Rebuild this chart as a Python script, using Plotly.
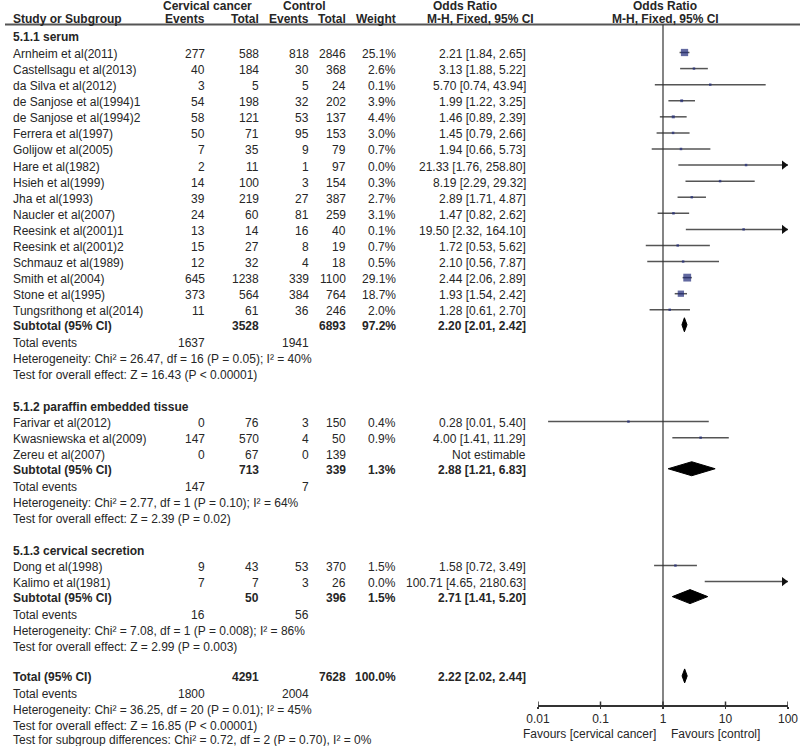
import plotly.graph_objects as go

# ---------------- DATA ----------------
group_names = ["5.1.1 serum", "5.1.2 paraffin embedded tissue", "5.1.3 cervical secretion"]

g1_studies = ["Arnheim et al(2011)", "Castellsagu et al(2013)", "da Silva et al(2012)",
              "de Sanjose et al(1994)1", "de Sanjose et al(1994)2", "Ferrera et al(1997)",
              "Golijow et al(2005)", "Hare et al(1982)", "Hsieh et al(1999)", "Jha et al(1993)",
              "Naucler et al(2007)", "Reesink et al(2001)1", "Reesink et al(2001)2",
              "Schmauz et al(1989)", "Smith et al(2004)", "Stone et al(1995)",
              "Tungsrithong et al(2014)"]
g1_ca_events = [277, 40, 3, 54, 58, 50, 7, 2, 14, 39, 24, 13, 15, 12, 645, 373, 11]
g1_ca_total = [588, 184, 5, 198, 121, 71, 35, 11, 100, 219, 60, 14, 27, 32, 1238, 564, 61]
g1_co_events = [818, 30, 5, 32, 53, 95, 9, 1, 3, 27, 81, 16, 8, 4, 339, 384, 36]
g1_co_total = [2846, 368, 24, 202, 137, 153, 79, 97, 154, 387, 259, 40, 19, 18, 1100, 764, 246]
g1_weight = [25.1, 2.6, 0.1, 3.9, 4.4, 3.0, 0.7, 0.0, 0.3, 2.7, 3.1, 0.1, 0.7, 0.5, 29.1, 18.7, 2.0]
g1_or = [2.21, 3.13, 5.70, 1.99, 1.46, 1.45, 1.94, 21.33, 8.19, 2.89, 1.47, 19.50, 1.72, 2.10, 2.44, 1.93, 1.28]
g1_lo = [1.84, 1.88, 0.74, 1.22, 0.89, 0.79, 0.66, 1.76, 2.29, 1.71, 0.82, 2.32, 0.53, 0.56, 2.06, 1.54, 0.61]
g1_hi = [2.65, 5.22, 43.94, 3.25, 2.39, 2.66, 5.73, 258.80, 29.32, 4.87, 2.62, 164.10, 5.62, 7.87, 2.89, 2.42, 2.70]

g2_studies = ["Farivar et al(2012)", "Kwasniewska et al(2009)", "Zereu et al(2007)"]
g2_ca_events = [0, 147, 0]
g2_ca_total = [76, 570, 67]
g2_co_events = [3, 4, 0]
g2_co_total = [150, 50, 139]
g2_weight = [0.4, 0.9, None]
g2_or = [0.28, 4.00, None]
g2_lo = [0.0145, 1.41, None]
g2_hi = [5.40, 11.29, None]

g3_studies = ["Dong et al(1998)", "Kalimo et al(1981)"]
g3_ca_events = [9, 7]
g3_ca_total = [43, 7]
g3_co_events = [53, 3]
g3_co_total = [370, 26]
g3_weight = [1.5, 0.0]
g3_or = [1.58, 100.71]
g3_lo = [0.72, 4.65]
g3_hi = [3.49, 2180.63]

sub_ca_total = [3528, 713, 50]
sub_co_total = [6893, 339, 396]
sub_weight = [97.2, 1.3, 1.5]
sub_or = [2.20, 2.88, 2.71]
sub_lo = [2.01, 1.21, 1.41]
sub_hi = [2.42, 6.83, 5.20]
sub_ca_events = [1637, 147, 16]
sub_co_events = [1941, 7, 56]
sub_het = ["Heterogeneity: Chi² = 26.47, df = 16 (P = 0.05); I² = 40%",
           "Heterogeneity: Chi² = 2.77, df = 1 (P = 0.10); I² = 64%",
           "Heterogeneity: Chi² = 7.08, df = 1 (P = 0.008); I² = 86%"]
sub_test = ["Test for overall effect: Z = 16.43 (P < 0.00001)",
            "Test for overall effect: Z = 2.39 (P = 0.02)",
            "Test for overall effect: Z = 2.99 (P = 0.003)"]

tot_ca_total = 4291
tot_co_total = 7628
tot_weight = 100.0
tot_or, tot_lo, tot_hi = 2.22, 2.02, 2.44
tot_ca_events = 1800
tot_co_events = 2004
tot_het = "Heterogeneity: Chi² = 36.25, df = 20 (P = 0.01); I² = 45%"
tot_test = "Test for overall effect: Z = 16.85 (P < 0.00001)"
tot_subgroup = "Test for subgroup differences: Chi² = 0.72, df = 2 (P = 0.70), I² = 0%"

tick_vals = [0.01, 0.1, 1, 10, 100]
tick_text = ["0.01", "0.1", "1", "10", "100"]
favour_left = "Favours [cervical cancer]"
favour_right = "Favours [control]"

groups = [
    (g1_studies, g1_ca_events, g1_ca_total, g1_co_events, g1_co_total, g1_weight, g1_or, g1_lo, g1_hi),
    (g2_studies, g2_ca_events, g2_ca_total, g2_co_events, g2_co_total, g2_weight, g2_or, g2_lo, g2_hi),
    (g3_studies, g3_ca_events, g3_ca_total, g3_co_events, g3_co_total, g3_weight, g3_or, g3_lo, g3_hi),
]

# ---------------- LAYOUT CONSTANTS ----------------
W, H = 800, 746
FONT = "Liberation Sans"
TXT = "#262626"
X_NAME, X_CAEV, X_CATOT, X_COEV, X_COTOT, X_W, X_OR = 11, 207, 261, 311, 348, 398, 528
AX_Y = 705          # pixel row of the forest-plot axis
PLOT_X0, PLOT_X1 = 538, 788
X_MIN, X_MAX = 0.01, 100
MARK_DY = -1.5
DIAMOND_H = 7
ARROW_SIZE = 8

fig = go.Figure()
ann = []


def txt(x, y, s, anchor="left", bold=False, size=12):
    ann.append(dict(x=x / W, y=1 - y / H, xref="paper", yref="paper",
                    text=f"<b>{s}</b>" if bold else s,
                    showarrow=False, xanchor=anchor, yanchor="middle",
                    font=dict(family=FONT, size=size, color=TXT)))


def fmt_or(o, lo, hi):
    return f"{o:.2f} [{lo:.2f}, {hi:.2f}]"


# headers
txt(207.5, 6, "Cervical cancer", "center", True)
txt(304, 6, "Control", "center", True)
txt(465, 6, "Odds Ratio", "center", True)
txt(665, 6, "Odds Ratio", "center", True)
txt(X_NAME, 19.5, "Study or Subgroup", "left", True)
txt(X_CAEV, 19.5, "Events", "right", True)
txt(X_CATOT, 19.5, "Total", "right", True)
txt(X_COEV, 19.5, "Events", "right", True)
txt(X_COTOT, 19.5, "Total", "right", True)
txt(X_W, 19.5, "Weight", "right", True)
txt(481, 19.5, "M-H, Fixed, 95% CI", "center", True)
txt(665, 19.5, "M-H, Fixed, 95% CI", "center", True)

ci_x, ci_y = [], []
sq_x, sq_y, sq_s = [], [], []
arr_y = []
diamonds = []

y = 37.5
for gi, g in enumerate(groups):
    names, cae, cat, coe, cot, wts, ors, los, his = g
    txt(X_NAME, y, group_names[gi], "left", True)
    y += 16.5
    for i, nm in enumerate(names):
        txt(X_NAME, y, nm)
        txt(X_CAEV, y, str(cae[i]), "right")
        txt(X_CATOT, y, str(cat[i]), "right")
        txt(X_COEV, y, str(coe[i]), "right")
        txt(X_COTOT, y, str(cot[i]), "right")
        if wts[i] is not None:
            txt(X_W, y, f"{wts[i]:.1f}%", "right")
        if ors[i] is None:
            txt(X_OR, y, "Not estimable", "right")
        else:
            txt(X_OR, y, fmt_or(ors[i], los[i], his[i]), "right")
            ym = y + MARK_DY
            hi = min(his[i], X_MAX)
            ci_x += [los[i], hi, None]
            ci_y += [ym, ym, None]
            if his[i] > X_MAX:
                arr_y.append(ym)
            sq_x.append(ors[i])
            sq_y.append(ym)
            sq_s.append(max(2.5, 1.45 * wts[i] ** 0.5))
        if i < len(names) - 1:
            y += 16.08
    y += 15
    # subtotal
    txt(X_NAME, y, "Subtotal (95% CI)", "left", True)
    txt(X_CATOT, y, str(sub_ca_total[gi]), "right", True)
    txt(X_COTOT, y, str(sub_co_total[gi]), "right", True)
    txt(X_W, y, f"{sub_weight[gi]:.1f}%", "right", True)
    txt(X_OR, y, fmt_or(sub_or[gi], sub_lo[gi], sub_hi[gi]), "right", True)
    diamonds.append((sub_or[gi], sub_lo[gi], sub_hi[gi], y + MARK_DY))
    y += 16.8
    txt(X_NAME, y, "Total events")
    txt(X_CAEV, y, str(sub_ca_events[gi]), "right")
    txt(X_COEV, y, str(sub_co_events[gi]), "right")
    y += 16
    txt(X_NAME, y, sub_het[gi])
    y += 16
    txt(X_NAME, y, sub_test[gi])
    y += 31.5 if gi < len(groups) - 1 else 30.5

# overall
txt(X_NAME, y, "Total (95% CI)", "left", True)
txt(X_CATOT, y, str(tot_ca_total), "right", True)
txt(X_COTOT, y, str(tot_co_total), "right", True)
txt(X_W, y, f"{tot_weight:.1f}%", "right", True)
txt(X_OR, y, fmt_or(tot_or, tot_lo, tot_hi), "right", True)
diamonds.append((tot_or, tot_lo, tot_hi, y + MARK_DY))
y += 17
txt(X_NAME, y, "Total events")
txt(X_CAEV, y, str(tot_ca_events), "right")
txt(X_COEV, y, str(tot_co_events), "right")
y += 16
txt(X_NAME, y, tot_het)
y += 15.5
txt(X_NAME, y, tot_test)
y += 14.5
txt(X_NAME, y, tot_subgroup)

# favours labels
txt(658, 734, favour_left, "right")
txt(669, 734, favour_right, "left")

# CI lines
fig.add_trace(go.Scatter(x=ci_x, y=ci_y, mode="lines", line=dict(color="#555555", width=1.5),
                         showlegend=False, hoverinfo="skip"))
# arrowheads: tip placed on the axis end (marker centre pulled back by half its size)
px_per_decade = (PLOT_X1 - PLOT_X0) / 4
arrow_x = X_MAX / 10 ** ((ARROW_SIZE / 2) / px_per_decade)
fig.add_trace(go.Scatter(x=[arrow_x] * len(arr_y), y=arr_y, mode="markers", cliponaxis=False,
                         marker=dict(symbol="triangle-right", size=ARROW_SIZE, color="#111111",
                                     line=dict(width=0)),
                         showlegend=False, hoverinfo="skip"))
# squares
fig.add_trace(go.Scatter(x=sq_x, y=sq_y, mode="markers",
                         marker=dict(symbol="square", size=sq_s, color="#1f2a78", line=dict(width=0)),
                         showlegend=False, hoverinfo="skip"))
# diamonds
for est, lo, hi, yd in diamonds:
    fig.add_trace(go.Scatter(x=[lo, est, hi, est, lo], y=[yd, yd - DIAMOND_H, yd, yd + DIAMOND_H, yd],
                             mode="lines", fill="toself", fillcolor="#000000",
                             line=dict(color="#000000", width=1),
                             showlegend=False, hoverinfo="skip"))

shapes = [
    dict(type="line", xref="paper", yref="paper", x0=5 / W, x1=1, y0=1 - 24.5 / H, y1=1 - 24.5 / H,
         line=dict(color="#555555", width=2)),
    dict(type="line", xref="x", yref="y", x0=1, x1=1, y0=24.5, y1=AX_Y,
         line=dict(color="#333333", width=1.2)),
]
# tick marks crossing the axis line (as in the original)
for tv in tick_vals:
    shapes.append(dict(type="line", xref="x", yref="y", x0=tv, x1=tv, y0=AX_Y - 3.5, y1=AX_Y + 3.5,
                       line=dict(color="#333333", width=1.5)))

fig.update_layout(
    width=W, height=H, margin=dict(l=0, r=0, t=0, b=0, pad=0),
    paper_bgcolor="white", plot_bgcolor="rgba(0,0,0,0)",
    annotations=ann, shapes=shapes, showlegend=False,
    xaxis=dict(type="log", range=[-2, 2], domain=[PLOT_X0 / W, PLOT_X1 / W], anchor="y",
               showline=True, linecolor="#333333", linewidth=1.5, automargin=False,
               ticks="outside", ticklen=2, tickwidth=1.5, tickcolor="#333333",
               tickvals=tick_vals, ticktext=tick_text, showgrid=False, zeroline=False,
               tickfont=dict(family=FONT, size=12, color=TXT), fixedrange=True),
    yaxis=dict(range=[AX_Y, 0], domain=[(H - AX_Y) / H, 1], visible=False,
               automargin=False, fixedrange=True),
)

fig.write_html("out.html", config={"displayModeBar": False, "staticPlot": True},
               post_script="document.body.style.margin='0';document.body.style.padding='0';"
                           "document.documentElement.style.overflow='hidden';")
